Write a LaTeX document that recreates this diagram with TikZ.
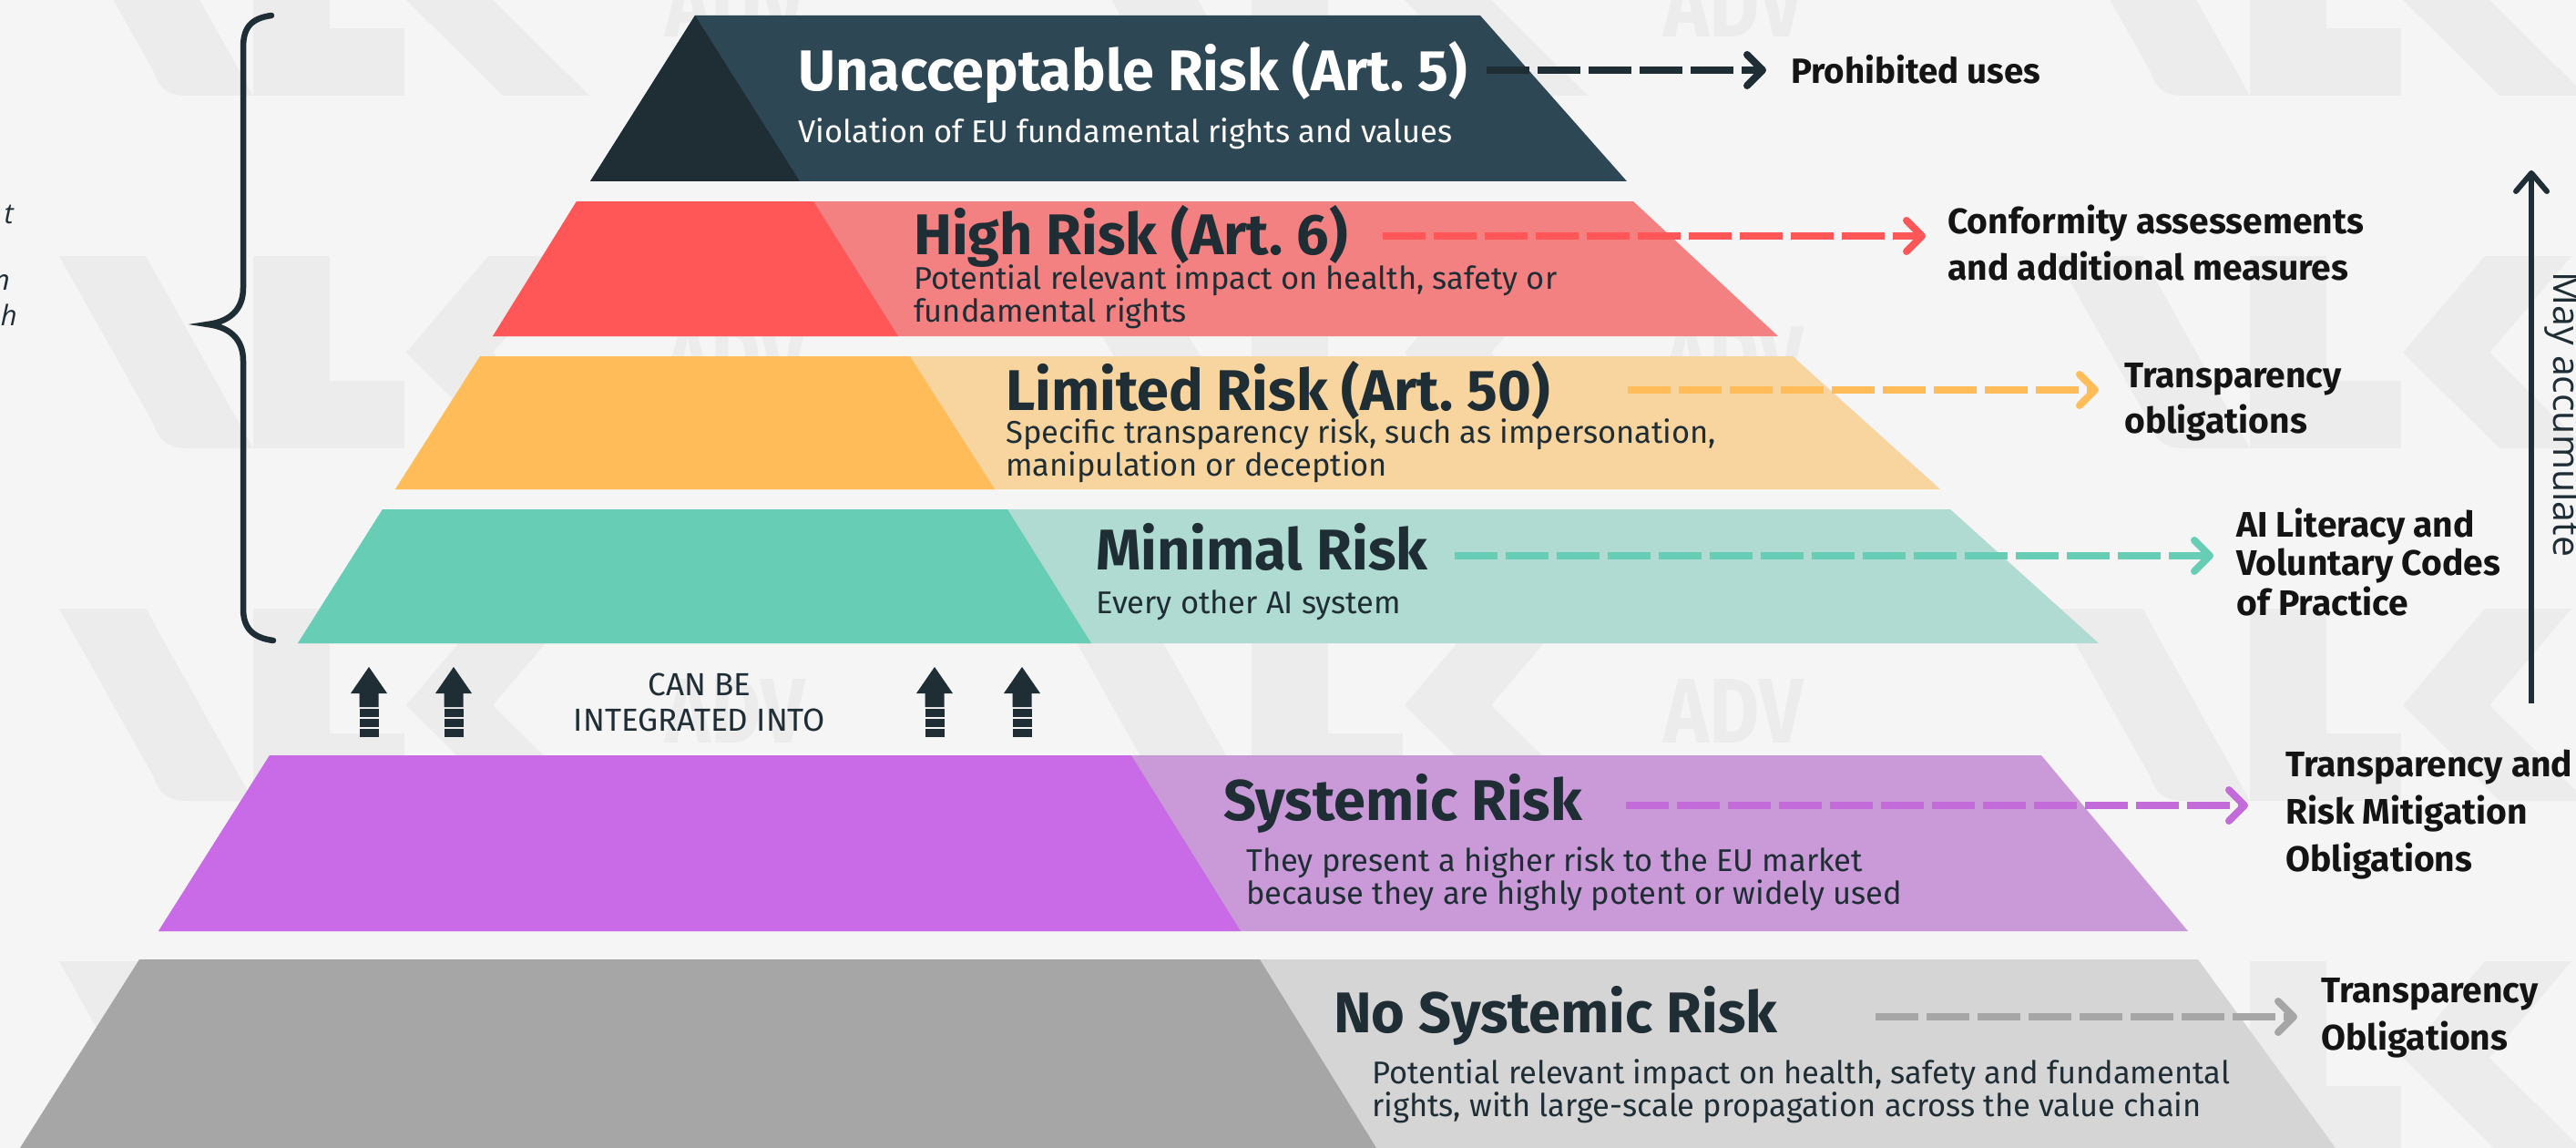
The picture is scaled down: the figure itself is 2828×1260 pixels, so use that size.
\documentclass[tikz,border=0pt]{standalone}
\usepackage{fontspec}
\setmainfont{Fira Sans}
\newfontfamily\osans{Open Sans}
\usetikzlibrary{arrows.meta}
\definecolor{bg}{HTML}{F5F5F5}
\definecolor{wm}{HTML}{EBECEB}
\definecolor{dk}{HTML}{1F2D35}
\definecolor{lbl}{HTML}{141414}
\definecolor{tone}{HTML}{2E4754}
\definecolor{ttwob}{HTML}{FF5757}
\definecolor{ttwol}{HTML}{F38181}
\definecolor{tthreeb}{HTML}{FFBC58}
\definecolor{tthreel}{HTML}{F8D59F}
\definecolor{tfourb}{HTML}{67CDB5}
\definecolor{tfourl}{HTML}{B0DBD2}
\definecolor{tfiveb}{HTML}{C96BE6}
\definecolor{tfivel}{HTML}{CA9AD8}
\definecolor{tfived}{HTML}{C46BDA}
\definecolor{tsixb}{HTML}{A6A6A6}
\definecolor{tsixl}{HTML}{D6D5D6}
\newcommand{\mylines}[1]{\begin{tabular}[t]{@{}l@{}}#1\end{tabular}}
\newcommand{\mycentre}[1]{\begin{tabular}[t]{@{}c@{}}#1\end{tabular}}
\tikzset{
  ttl/.style={anchor=base west, inner sep=0pt, font=\fontsize{63}{70}\selectfont\bfseries, text=dk},
  desc/.style={anchor=base west, inner sep=0pt, font=\fontsize{34.5}{33.5}\selectfont, text=dk},
  lab/.style={anchor=base west, inner sep=0pt, text=lbl},
  dasharr/.style={line width=8pt, dash pattern=on 47pt off 9pt, -{Straight Barb[round,length=17pt,width=34pt]}},
  wmtext/.style={anchor=base west, inner sep=0pt, text=wm, font=\fontsize{101}{110}\selectfont\bfseries},
}
\begin{document}
\begin{tikzpicture}[x=1pt,y=-1pt]
\useasboundingbox (0,0) rectangle (2828,1260);
\fill[bg] (0,0) rectangle (2828,1260);
% watermark pattern
\foreach \s in {-818,278,1374,2470} {
  \foreach \r in {-106,281,668,1055} {
    \fill[wm] (\s-213,\r) -- (\s-118,\r) -- (\s,\r+211) -- (\s-72,\r+211) .. controls (\s-92,\r+211) and (\s-103,\r+204) .. (\s-109,\r+185) -- cycle;
    \fill[wm] (\s,\r) rectangle (\s+84,\r+211);
    \fill[wm] (\s+84,\r+137) rectangle (\s+166,\r+211);
    \fill[wm] (\s+168,\r+106) -- (\s+258,\r) -- (\s+353,\r) -- (\s+263,\r+106) -- (\s+369,\r+211) -- (\s+274,\r+211) -- cycle;
  }
}
\foreach \s in {278,1374} {
  \foreach \r in {-106,281,668} {
    \node[wmtext] (wm\s\r) at (\s+452,\r+147) {\scalebox{0.84}[1]{ADV}};
  }
}
% tier 1
\fill[tone] (763,17) -- (1625,17) -- (1786,199) -- (648,199) -- cycle;
\fill[dk] (763,17) -- (878,199) -- (648,199) -- cycle;
% tier 2
\fill[ttwol] (633,221) -- (1793,221) -- (1952,369) -- (541,369) -- cycle;
\fill[ttwob] (633,221) -- (893,221) -- (986,369) -- (541,369) -- cycle;
% tier 3
\fill[tthreel] (527,391) -- (1968,391) -- (2130,537) -- (434,537) -- cycle;
\fill[tthreeb] (527,391) -- (999,391) -- (1092,537) -- (434,537) -- cycle;
% tier 4
\fill[tfourl] (420,559) -- (2141,559) -- (2304,706) -- (327,706) -- cycle;
\fill[tfourb] (420,559) -- (1106,559) -- (1198,706) -- (327,706) -- cycle;
% systemic
\fill[tfivel] (296,829) -- (2241,829) -- (2402,1022) -- (174,1022) -- cycle;
\fill[tfiveb] (296,829) -- (1242,829) -- (1362,1022) -- (174,1022) -- cycle;
% no systemic
\fill[tsixl] (153,1053) -- (2413,1053) -- (2564,1260) -- (22,1260) -- cycle;
\fill[tsixb] (153,1053) -- (1383,1053) -- (1511,1260) -- (22,1260) -- cycle;

% titles and descriptions
\node[ttl, text=white] (t1) at (876,100) {Unacceptable Risk (Art.~5)};
\node[desc, text=white] (d1) at (876,157) {Violation of EU fundamental rights and values};
\node[ttl] (t2) at (1003,279) {High Risk (Art.~6)};
\node[desc] (d2) at (1003,317) {\mylines{Potential relevant impact on health, safety or\\fundamental rights}};
\node[ttl] (t3) at (1104,450) {Limited Risk (Art.~50)};
\node[desc] (d3) at (1104,486) {\mylines{Specific transparency risk, such as impersonation,\\manipulation or deception}};
\node[ttl] (t4) at (1203,625) {Minimal Risk};
\node[desc] (d4) at (1203,673) {Every other AI system};
\node[ttl] (t5) at (1343,900) {Systemic Risk};
\node[desc] (d5) at (1368,956) {\mylines{They present a higher risk to the EU market\\because they are highly potent or widely used}};
\node[ttl] (t6) at (1464,1133) {No Systemic Risk};
\node[desc] (d6) at (1506,1189) {\mylines{Potential relevant impact on health, safety and fundamental\\rights, with large-scale propagation across the value chain}};

% right labels
\node[lab, font=\fontsize{38.5}{50}\selectfont\bfseries] (l1) at (1966,92) {Prohibited uses};
\node[lab, font=\fontsize{39}{51}\selectfont\bfseries] (l2) at (2138,256) {\mylines{Conformity assessements\\and additional measures}};
\node[lab, font=\fontsize{39}{50}\selectfont\bfseries] (l3) at (2332,425) {\mylines{Transparency\\obligations}};
\node[lab, font=\fontsize{39}{41.5}\selectfont\bfseries] (l4) at (2455,589) {\mylines{AI Literacy and\\Voluntary Codes\\of Practice}};
\node[lab, font=\fontsize{39}{52}\selectfont\bfseries] (l5) at (2509,852) {\mylines{Transparency and\\Risk Mitigation\\Obligations}};
\node[lab, font=\fontsize{39}{52}\selectfont\bfseries] (l6) at (2548,1100) {\mylines{Transparency\\Obligations}};

% dashed connectors
\coordinate (s1) at (1632,77);  \coordinate (e1) at (1939,77);
\coordinate (s2) at (1518,259); \coordinate (e2) at (2114,259);
\coordinate (s3) at (1787,428); \coordinate (e3) at (2304,428);
\coordinate (s4) at (1597,610); \coordinate (e4) at (2430,610);
\coordinate (s5) at (1785,884); \coordinate (e5) at (2468,884);
\coordinate (s6) at (2059,1116); \coordinate (e6) at (2522,1116);
\draw[dasharr, dk] (s1) -- (e1);
\draw[dasharr, ttwob] (s2) -- (e2);
\draw[dasharr, tthreeb] (s3) -- (e3);
\draw[dasharr, tfourb] (s4) -- (e4);
\draw[dasharr, tfived] (s5) -- (e5);
\draw[dasharr, tsixb] (s6) -- (e6);

% may accumulate
\coordinate (ma0) at (2779,772);
\coordinate (ma1) at (2779,187);
\draw[dk, line width=6pt, -{Straight Barb[round,length=20pt,width=34pt]}] (ma0) -- (ma1);
\node[rotate=-90, anchor=base, inner sep=0pt, font=\osans\fontsize{41}{44}\selectfont, text=dk] (ma) at (2803,455) {May accumulate};

% brace
\draw[dk, line width=6.5pt, line cap=round] (298,17) .. controls (276,20) and (267,30) .. (267,52) -- (267,316) .. controls (267,340) and (252,353) .. (228,356) .. controls (252,359) and (267,372) .. (267,396) -- (267,668) .. controls (267,690) and (278,700) .. (300,703);

% left cut text
\node[anchor=base east, inner sep=0pt, font=\osans\itshape\fontsize{31}{34}\selectfont, text=dk] (f1) at (15,245) {t};
\node[anchor=base east, inner sep=0pt, font=\osans\itshape\fontsize{31}{34}\selectfont, text=dk] (f2) at (11,318) {n};
\node[anchor=base east, inner sep=0pt, font=\osans\itshape\fontsize{31}{34}\selectfont, text=dk] (f3) at (19,357) {h};

% can be integrated into
\node[anchor=base, inner sep=0pt, font=\fontsize{35}{39}\selectfont, text=dk] (cb) at (768,763) {\mycentre{CAN BE\\INTEGRATED INTO}};
\foreach \cx in {405,498,1026,1122} {
  \fill[dk] (\cx-20,761) -- (\cx,732) -- (\cx+20,761) -- (\cx+10.5,761) -- (\cx+10.5,776) -- (\cx-10.5,776) -- (\cx-10.5,761) -- cycle;
  \fill[dk] (\cx-10.5,778) rectangle (\cx+10.5,787);
  \fill[dk] (\cx-10.5,789) rectangle (\cx+10.5,798);
  \fill[dk] (\cx-10.5,800) rectangle (\cx+10.5,809);
}
\end{tikzpicture}
\end{document}
